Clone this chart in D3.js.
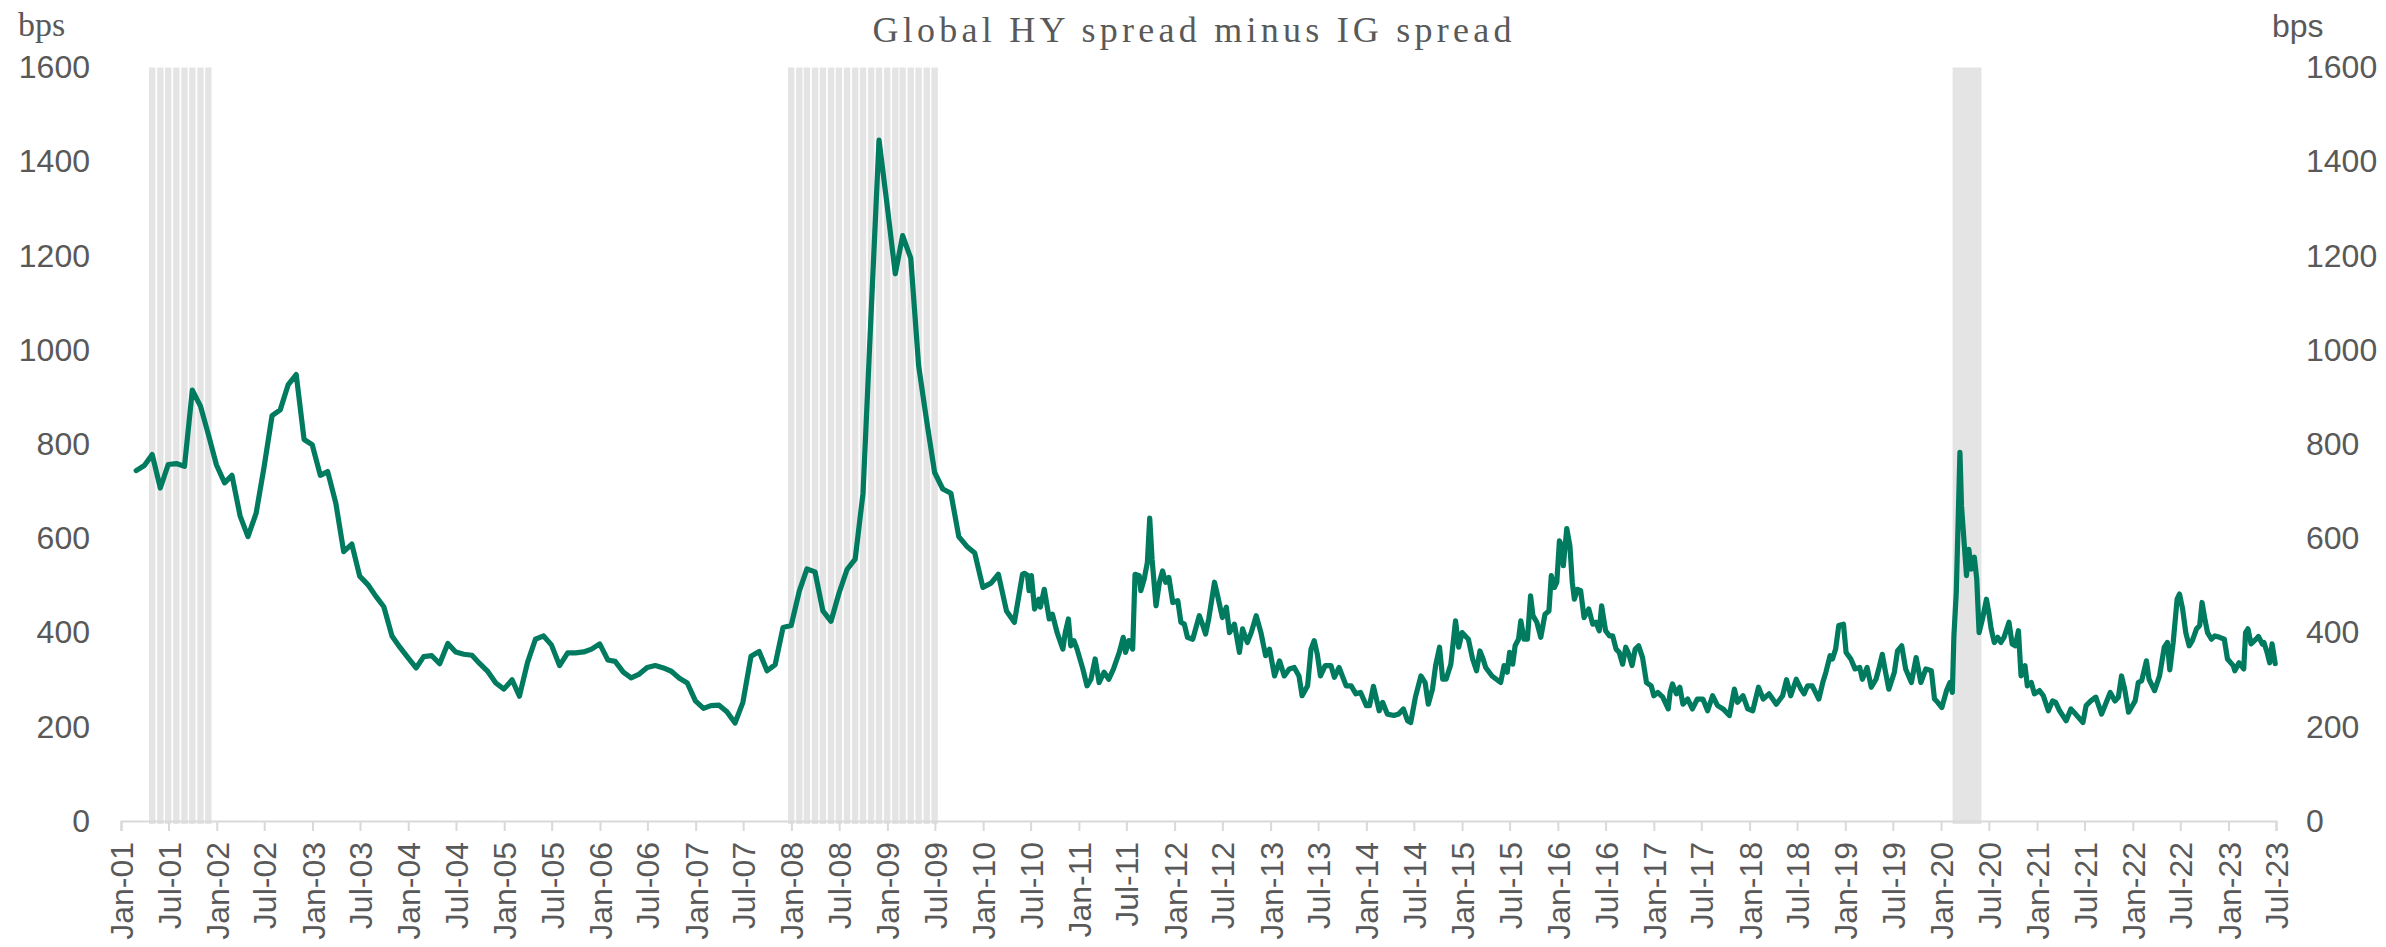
<!DOCTYPE html>
<html>
<head>
<meta charset="utf-8">
<script src="https://cdn.jsdelivr.net/npm/d3@7"></script>
<style>
  html, body { margin: 0; padding: 0; background: #fff; }
  svg { display: block; }
</style>
</head>
<body>
<div id="chart"></div>
<script>
/* Data
-----------------------------------------------------------------------------*/
const title = 'Global HY spread minus IG spread';
const unitLabel = 'bps';
const yTicks = [0, 200, 400, 600, 800, 1000, 1200, 1400, 1600];

// monthly readings (month-end), Feb-01 .. May-10
const monthlyStart = '2001-02';
const monthlyValues = [
  744, 755, 778, 707, 757, 759, 753, 915, 881, 821, 756,
  718, 734, 648, 604, 653, 750, 861, 873, 926, 948, 810, 799,
  734, 742, 675, 572, 588, 520, 502, 477, 455, 393, 369, 347,
  325, 349, 351, 334, 377, 359, 354, 352, 334, 317, 293, 280,
  300, 265, 337, 386, 393, 374, 330, 357, 357, 359, 365, 376,
  342, 339, 316, 304, 312, 326, 330, 325, 318, 303, 293, 255,
  239, 245, 246, 232, 208, 252, 350, 360, 319, 332, 411, 415,
  488, 535, 529, 446, 424, 483, 534, 556, 696, 1080, 1446, 1307,
  1162, 1243, 1195, 967, 848, 740, 705, 696, 604, 583, 569, 496,
  505, 524, 446, 422, 524,
];

// higher frequency readings from Jun-10 on
const weeklySpread = [
  ['2010-06-07', 526], ['2010-06-19', 522], ['2010-06-25', 489], ['2010-07-04', 521],
  ['2010-07-16', 450], ['2010-08-01', 471], ['2010-08-07', 454], ['2010-08-22', 492],
  ['2010-09-10', 429], ['2010-09-22', 439], ['2010-10-10', 400], ['2010-11-01', 365],
  ['2010-11-10', 400], ['2010-11-22', 429], ['2010-12-01', 372], ['2010-12-13', 383],
  ['2010-12-25', 365],
  ['2011-01-16', 323], ['2011-02-01', 287], ['2011-02-16', 301], ['2011-03-04', 344],
  ['2011-03-19', 294], ['2011-04-07', 316], ['2011-04-25', 301], ['2011-05-13', 323],
  ['2011-06-04', 358], ['2011-06-19', 390], ['2011-06-28', 358], ['2011-07-10', 383],
  ['2011-07-25', 365], ['2011-08-03', 524], ['2011-08-19', 521], ['2011-08-25', 489],
  ['2011-09-07', 514], ['2011-09-19', 549], ['2011-09-28', 643], ['2011-10-07', 556],
  ['2011-10-22', 457], ['2011-11-04', 507], ['2011-11-16', 531], ['2011-11-28', 507],
  ['2011-12-10', 517], ['2011-12-25', 464],
  ['2012-01-13', 468], ['2012-01-25', 422], ['2012-02-07', 418], ['2012-02-19', 390],
  ['2012-03-10', 386], ['2012-04-04', 436], ['2012-04-16', 418], ['2012-04-28', 397],
  ['2012-05-10', 429], ['2012-06-01', 507], ['2012-06-13', 478], ['2012-07-01', 432],
  ['2012-07-16', 454], ['2012-07-28', 400], ['2012-08-16', 418], ['2012-09-04', 358],
  ['2012-09-16', 408], ['2012-10-04', 379], ['2012-10-19', 400], ['2012-11-07', 436],
  ['2012-11-25', 400], ['2012-12-13', 351], ['2012-12-28', 365],
  ['2013-01-16', 308], ['2013-02-04', 340], ['2013-02-22', 308], ['2013-03-13', 323],
  ['2013-04-01', 326], ['2013-04-19', 308], ['2013-05-01', 266], ['2013-05-22', 287],
  ['2013-06-04', 365], ['2013-06-16', 383], ['2013-06-28', 354], ['2013-07-10', 308],
  ['2013-07-28', 330], ['2013-08-19', 330], ['2013-09-01', 305], ['2013-09-19', 326],
  ['2013-10-16', 287], ['2013-11-04', 287], ['2013-11-22', 270], ['2013-12-10', 273],
  ['2014-01-01', 245], ['2014-01-13', 245], ['2014-01-28', 286], ['2014-02-19', 234],
  ['2014-03-04', 252], ['2014-03-22', 227], ['2014-04-16', 224], ['2014-05-04', 227],
  ['2014-05-22', 238], ['2014-06-07', 213], ['2014-06-19', 209], ['2014-07-07', 263],
  ['2014-07-28', 308], ['2014-08-13', 294], ['2014-08-25', 248], ['2014-09-10', 280],
  ['2014-09-22', 330], ['2014-10-07', 369], ['2014-10-19', 301], ['2014-11-01', 301],
  ['2014-11-19', 333], ['2014-12-07', 425], ['2014-12-19', 369],
  ['2015-01-01', 400], ['2015-01-25', 386], ['2015-02-10', 344], ['2015-02-25', 319],
  ['2015-03-10', 361], ['2015-03-22', 344], ['2015-04-01', 326], ['2015-04-25', 308],
  ['2015-05-28', 294], ['2015-06-10', 330], ['2015-06-22', 316], ['2015-07-01', 358],
  ['2015-07-13', 333], ['2015-07-22', 372], ['2015-08-04', 386], ['2015-08-13', 425],
  ['2015-08-25', 386], ['2015-09-07', 386], ['2015-09-19', 478], ['2015-09-28', 436],
  ['2015-10-13', 422], ['2015-10-28', 390], ['2015-11-13', 439], ['2015-11-28', 446],
  ['2015-12-07', 521], ['2015-12-19', 496], ['2015-12-28', 507],
  ['2016-01-07', 595], ['2016-01-16', 584], ['2016-01-22', 542], ['2016-02-04', 621],
  ['2016-02-16', 584], ['2016-02-25', 507], ['2016-03-04', 471], ['2016-03-16', 492],
  ['2016-03-28', 489], ['2016-04-10', 432], ['2016-04-28', 450], ['2016-05-13', 418],
  ['2016-05-25', 422], ['2016-06-07', 404], ['2016-06-16', 457], ['2016-07-01', 404],
  ['2016-07-16', 393], ['2016-07-28', 393], ['2016-08-10', 365], ['2016-08-22', 358],
  ['2016-09-04', 333], ['2016-09-16', 369], ['2016-09-28', 354], ['2016-10-10', 330],
  ['2016-10-22', 365], ['2016-11-04', 372], ['2016-11-19', 347], ['2016-12-04', 294],
  ['2016-12-22', 287],
  ['2017-01-01', 266], ['2017-01-16', 273], ['2017-02-04', 263], ['2017-02-25', 238],
  ['2017-03-04', 273], ['2017-03-13', 291], ['2017-03-28', 270], ['2017-04-10', 284],
  ['2017-04-22', 248], ['2017-05-10', 259], ['2017-05-28', 238], ['2017-06-16', 259],
  ['2017-07-07', 259], ['2017-07-25', 234], ['2017-08-13', 266], ['2017-09-01', 245],
  ['2017-09-22', 238], ['2017-10-16', 224], ['2017-11-04', 280], ['2017-11-16', 252],
  ['2017-12-07', 266], ['2017-12-25', 238],
  ['2018-01-13', 234], ['2018-02-04', 284], ['2018-02-22', 259], ['2018-03-16', 270],
  ['2018-04-13', 248], ['2018-05-07', 266], ['2018-05-22', 300], ['2018-06-07', 266],
  ['2018-06-28', 301], ['2018-07-16', 280], ['2018-07-28', 270], ['2018-08-10', 287],
  ['2018-08-28', 287], ['2018-09-22', 259], ['2018-10-07', 294], ['2018-10-19', 316],
  ['2018-11-04', 351], ['2018-11-13', 344], ['2018-11-25', 365], ['2018-12-07', 415],
  ['2018-12-25', 418],
  ['2019-01-04', 358], ['2019-01-22', 344], ['2019-02-07', 323], ['2019-02-25', 326],
  ['2019-03-07', 301], ['2019-03-25', 326], ['2019-04-10', 284], ['2019-04-28', 301],
  ['2019-05-10', 326], ['2019-05-22', 354], ['2019-06-01', 323], ['2019-06-16', 280],
  ['2019-07-07', 316], ['2019-07-19', 361], ['2019-08-04', 372], ['2019-08-19', 323],
  ['2019-09-10', 294], ['2019-09-28', 347], ['2019-10-16', 294], ['2019-11-04', 323],
  ['2019-11-25', 319], ['2019-12-07', 259], ['2019-12-19', 252],
  ['2020-01-04', 241], ['2020-01-22', 277], ['2020-02-04', 294], ['2020-02-13', 273],
  ['2020-02-19', 393], ['2020-02-28', 485], ['2020-03-13', 783], ['2020-03-19', 669],
  ['2020-04-07', 521], ['2020-04-16', 577], ['2020-04-25', 535], ['2020-05-07', 560],
  ['2020-05-16', 514], ['2020-05-25', 400], ['2020-06-07', 429], ['2020-06-22', 471],
  ['2020-07-01', 443], ['2020-07-10', 408], ['2020-07-22', 379], ['2020-08-04', 390],
  ['2020-08-16', 379], ['2020-08-28', 390], ['2020-09-16', 422], ['2020-09-28', 376],
  ['2020-10-10', 372], ['2020-10-22', 404], ['2020-11-01', 308], ['2020-11-16', 330],
  ['2020-11-25', 287], ['2020-12-10', 294], ['2020-12-22', 270],
  ['2021-01-10', 277], ['2021-01-25', 266], ['2021-02-13', 234], ['2021-03-01', 255],
  ['2021-03-13', 252], ['2021-03-28', 234], ['2021-04-22', 213], ['2021-05-10', 238],
  ['2021-05-28', 227], ['2021-06-25', 209], ['2021-07-07', 245], ['2021-07-25', 255],
  ['2021-08-13', 263], ['2021-09-04', 227], ['2021-09-22', 252], ['2021-10-07', 273],
  ['2021-10-25', 255], ['2021-11-07', 263], ['2021-11-19', 308], ['2021-12-01', 280],
  ['2021-12-16', 231],
  ['2022-01-10', 255], ['2022-01-22', 294], ['2022-02-04', 298], ['2022-02-22', 340],
  ['2022-03-04', 301], ['2022-03-25', 277], ['2022-04-13', 308], ['2022-05-01', 369],
  ['2022-05-13', 379], ['2022-05-22', 321], ['2022-06-04', 379], ['2022-06-19', 471],
  ['2022-06-28', 482], ['2022-07-10', 450], ['2022-07-22', 400], ['2022-08-04', 372],
  ['2022-08-16', 383], ['2022-09-01', 408], ['2022-09-13', 415], ['2022-09-22', 464],
  ['2022-10-04', 425], ['2022-10-13', 400], ['2022-10-28', 386], ['2022-11-10', 393],
  ['2022-11-28', 390], ['2022-12-16', 386], ['2022-12-28', 344],
  ['2023-01-19', 330], ['2023-01-25', 319], ['2023-02-10', 336], ['2023-02-28', 323],
  ['2023-03-07', 400], ['2023-03-16', 408], ['2023-03-28', 376], ['2023-04-16', 386],
  ['2023-04-25', 392], ['2023-05-10', 376], ['2023-05-16', 379], ['2023-05-28', 358],
  ['2023-06-07', 336], ['2023-06-16', 376], ['2023-06-28', 334],
];

// US recession months (shaded columns)
const recessionMonths = [
  '2001-04', '2001-05', '2001-06', '2001-07', '2001-08', '2001-09', '2001-10', '2001-11',
  '2007-12', '2008-01', '2008-02', '2008-03', '2008-04', '2008-05', '2008-06', '2008-07',
  '2008-08', '2008-09', '2008-10', '2008-11', '2008-12', '2009-01', '2009-02', '2009-03',
  '2009-04', '2009-05', '2009-06',
];
// covid shading drawn from weekly columns, no visible gaps
const covidBand = ['2020-02-14', '2020-06-03'];

const axisStart = '2001-01-01';
const axisEnd = '2023-07-01';

/* Setup
-----------------------------------------------------------------------------*/
const width = 2386;
const height = 947;
const margin = { left: 121, right: 110, top: 67.5, bottom: 126 };

const labelColor = '#595959';
const axisColor = '#d9d9d9';
const lineColor = '#007b5f';
const bandColor = '#e4e4e4';

const parseDay = d3.timeParse('%Y-%m-%d');
const parseMonth = d3.timeParse('%Y-%m');
const monthEnd = (d) => d3.timeDay.offset(d3.timeMonth.offset(d, 1), -1);

const series = [];
monthlyValues.forEach((v, i) => {
  const m = d3.timeMonth.offset(parseMonth(monthlyStart), i);
  series.push({ date: monthEnd(m), value: v });
});
weeklySpread.forEach(([d, v]) => series.push({ date: parseDay(d), value: v }));

const x = d3
  .scaleTime()
  .domain([parseDay(axisStart), parseDay(axisEnd)])
  .range([margin.left, width - margin.right]);

const y = d3
  .scaleLinear()
  .domain([0, 1600])
  .range([height - margin.bottom, margin.top]);

const svg = d3
  .select('#chart')
  .append('svg')
  .attr('width', width)
  .attr('height', height)
  .attr('xmlns', 'http://www.w3.org/2000/svg');

/* Recession shading
-----------------------------------------------------------------------------*/
const bands = svg.append('g').attr('class', 'bands');

recessionMonths.forEach((m) => {
  const centre = monthEnd(parseMonth(m));
  const x0 = x(d3.timeDay.offset(centre, -15));
  const x1 = x(d3.timeDay.offset(centre, 15));
  bands
    .append('rect')
    .attr('x', x0 + 0.75)
    .attr('y', y(1600))
    .attr('width', x1 - x0 - 1.5)
    .attr('height', y(0) - y(1600) + 3)
    .attr('fill', bandColor);
});

bands
  .append('rect')
  .attr('x', x(parseDay(covidBand[0])))
  .attr('y', y(1600))
  .attr('width', x(parseDay(covidBand[1])) - x(parseDay(covidBand[0])))
  .attr('height', y(0) - y(1600) + 3)
  .attr('fill', bandColor);

/* Axes
-----------------------------------------------------------------------------*/
const xTicks = d3.timeMonth.every(6).range(parseDay(axisStart), d3.timeDay.offset(parseDay(axisEnd), 1));
const fmt = d3.timeFormat('%b-%y');

const xAxis = svg
  .append('g')
  .attr('transform', `translate(0, ${y(0)})`)
  .call(d3.axisBottom(x).tickValues(xTicks).tickSize(10).tickFormat(fmt));

xAxis.select('.domain').attr('stroke', axisColor).attr('stroke-width', 2);
xAxis.selectAll('.tick line').attr('stroke', axisColor).attr('stroke-width', 2);
xAxis
  .selectAll('.tick text')
  .attr('fill', labelColor)
  .attr('font-family', 'Liberation Sans, Arial, sans-serif')
  .attr('font-size', 32)
  .attr('text-anchor', 'end')
  .attr('transform', 'rotate(-90)')
  .attr('x', -21)
  .attr('y', 0)
  .attr('dy', '0.36em');

const leftAxis = svg
  .append('g')
  .attr('transform', 'translate(90, 0)')
  .call(d3.axisLeft(y).tickValues(yTicks).tickSize(0).tickPadding(0).tickFormat(d3.format('d')));
const rightAxis = svg
  .append('g')
  .attr('transform', 'translate(2306, 0)')
  .call(d3.axisRight(y).tickValues(yTicks).tickSize(0).tickPadding(0).tickFormat(d3.format('d')));

[leftAxis, rightAxis].forEach((a) => {
  a.select('.domain').remove();
  a.selectAll('.tick text')
    .attr('fill', labelColor)
    .attr('font-family', 'Liberation Sans, Arial, sans-serif')
    .attr('font-size', 32);
});

/* Line
-----------------------------------------------------------------------------*/
const line = d3
  .line()
  .x((d) => x(d.date))
  .y((d) => y(d.value));

svg
  .append('path')
  .datum(series)
  .attr('fill', 'none')
  .attr('stroke', lineColor)
  .attr('stroke-width', 5.2)
  .attr('stroke-linejoin', 'round')
  .attr('stroke-linecap', 'round')
  .attr('d', line);

/* Titles
-----------------------------------------------------------------------------*/
svg
  .append('text')
  .attr('x', 1192)
  .attr('y', 42)
  .attr('text-anchor', 'middle')
  .attr('fill', labelColor)
  .attr('font-family', 'Liberation Serif, Times New Roman, serif')
  .attr('font-size', 36)
  .attr('textLength', 639)
  .attr('lengthAdjust', 'spacing')
  .text(title);

svg
  .append('text')
  .attr('x', 18)
  .attr('y', 36)
  .attr('fill', labelColor)
  .attr('font-family', 'Liberation Serif, Times New Roman, serif')
  .attr('font-size', 34)
  .text(unitLabel);

svg
  .append('text')
  .attr('x', 2272)
  .attr('y', 37)
  .attr('fill', labelColor)
  .attr('font-family', 'Liberation Sans, Arial, sans-serif')
  .attr('font-size', 32)
  .text(unitLabel);
</script>
</body>
</html>
